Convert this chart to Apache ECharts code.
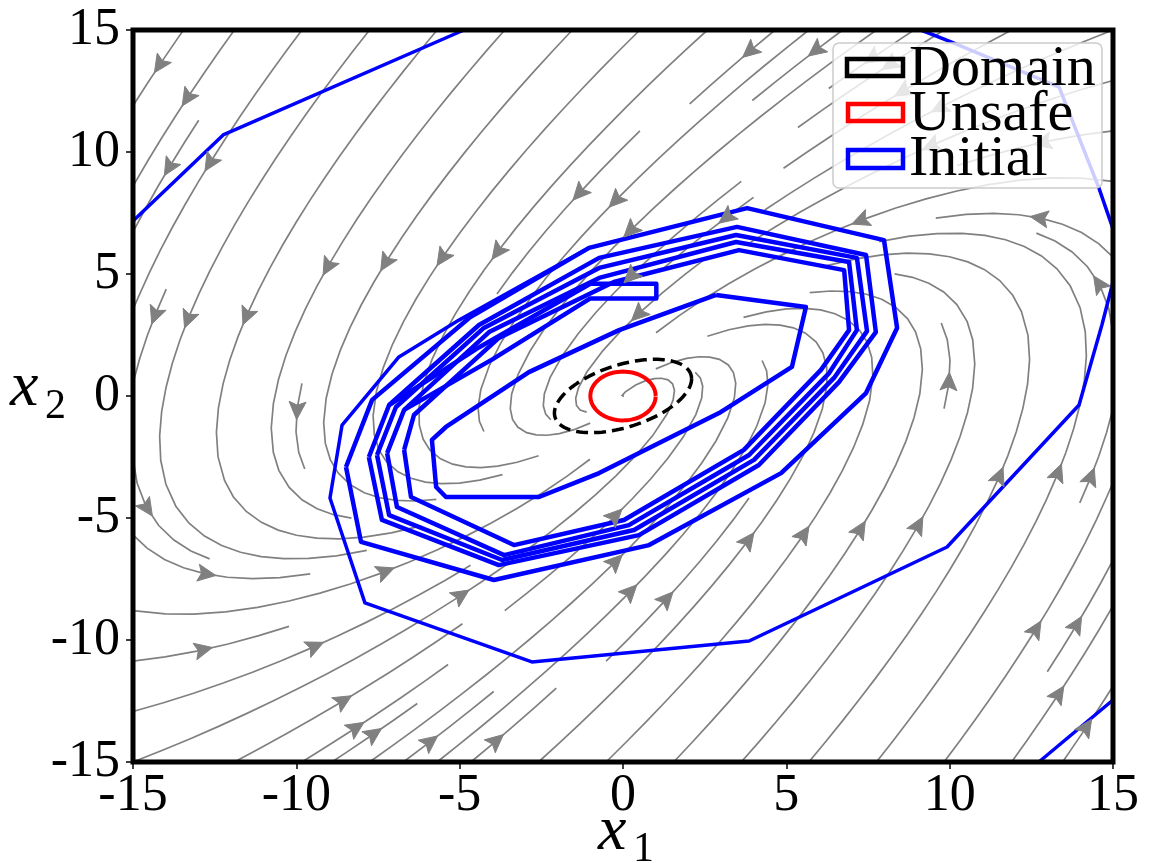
<!DOCTYPE html>
<html>
<head>
<meta charset="utf-8">
<script src="https://cdn.jsdelivr.net/npm/echarts@6/dist/echarts.min.js"></script>
<style>
html,body{margin:0;padding:0;background:#fff;}
#chart{width:1153px;height:863px;}
</style>
</head>
<body>
<div id="chart"></div>
<script>
// ---- axes ----
const X_RANGE = [-15, 15];
const Y_RANGE = [-15, 15];
const TICK_STEP = 5;

// ---- linear vector field  d[x1,x2]/dt = [rowX . x, rowY . x] ----
const fieldRowX = [0.13, -1.0];
const fieldRowY = [0.89, -1.34];

// ---- domain ellipse (two conjugate semi-diameters) and unsafe disc ----
const domainCenter = [0, 0];
const domainSemiU = [2.1, 0.7];
const domainSemiV = [0, 1.33];
const unsafeCenter = [0, 0];
const unsafeRadius = 1.0;

// ---- initial-set boundary pieces (x1, x2) ----
const initTopLeft = [[-15, 7.17], [-12.24, 10.7], [-4.87, 15]];
const initTopRight = [[9.12, 15], [10.04, 14.51], [13.35, 12.66], [14.57, 8.52], [15, 6.85]];
const initBottomRight = [[12.73, -15], [15, -12.46]];
const initOuter = [[15, 4.67], [14.66, 2.91], [13.96, -0.37], [9.92, -6.19], [3.86, -10.04],
  [-2.79, -10.9], [-7.9, -8.48], [-8.97, -4.18], [-8.6, -1.19], [-6.86, 1.6], [-5.02, 3.11], [-1.04, 6.07]];
const initRing1 = [[-8.48, -2.91], [-8.02, -5.98], [-3.95, -7.54], [0.8, -6.11], [4.84, -3.16],
  [7.44, 0.12], [8.39, 2.79], [7.99, 6.39], [3.8, 7.7], [-1.04, 6.07], [-4.71, 3.2], [-7.68, -0.16], [-8.48, -2.91]];
const initRing2 = [[-7.78, -2.5], [-7.38, -5.08], [-3.8, -6.93], [0.49, -5.7], [4.16, -2.83],
  [6.61, 0.57], [7.74, 2.62], [7.44, 5.78], [3.49, 6.93], [-0.73, 5.66], [-4.41, 2.91], [-7.16, -0.37], [-7.78, -2.5]];
const initRing2b = [[-7.53, -2.42], [-7.16, -4.88], [-3.7, -6.72], [0.34, -5.49], [4.01, -2.62],
  [6.46, 0.74], [7.47, 2.66], [7.16, 5.66], [3.46, 6.6], [-0.73, 5.25], [-4.26, 2.79], [-6.95, -0.45], [-7.53, -2.42]];
const initRing3 = [[-7.22, -2.34], [-6.92, -4.55], [-3.64, -6.52], [0.18, -5.29], [3.86, -2.42],
  [6.31, 0.94], [7.16, 2.7], [6.92, 5.49], [3.46, 6.31], [-0.73, 4.84], [-4.1, 2.62], [-6.7, -0.57], [-7.22, -2.34]];
const initRing4 = [[-6.7, -2.21], [-6.49, -4.14], [-3.34, -6.11], [0.03, -5.08], [3.7, -2.21],
  [6.06, 1.07], [6.92, 2.7], [6.77, 5.16], [3.55, 5.98], [-0.28, 4.67], [-3.8, 2.38], [-6.4, -0.78], [-6.7, -2.21]];
const initHairpin = [[-7.16, -0.37], [-4.4, 2.0], [-1.0, 4.6], [1.02, 4.6], [1.02, 4.0], [-1.0, 4.0], [-4.0, 1.5], [-6.7, -0.57]];
const initInner = [[2.85, 4.14], [5.6, 3.65], [5.17, 1.19], [2.94, -0.7], [-0.73, -3.16], [-2.57, -4.14],
  [-5.42, -4.14], [-5.72, -3.73], [-5.85, -1.8], [-5.42, -1.27], [-2.88, 0.98], [-0.12, 2.7], [2.85, 4.14]];

// ---- streamline tracing on a 30x30 occupancy mask ----
function traceStreamlines() {
  const N = 100;                       // field samples per axis
  const dx = (X_RANGE[1] - X_RANGE[0]) / (N - 1);
  const dy = (Y_RANGE[1] - Y_RANGE[0]) / (N - 1);
  const MX = 30, MY = 30;
  const mask = new Uint8Array(MX * MY);
  const g2mX = (MX - 1) / (N - 1), g2mY = (MY - 1) / (N - 1);
  const minlength = 0.1, maxlength = 4.0;
  let traj = [];
  let cur = null;

  const pyRound = v => {
    const f = Math.floor(v), d = v - f;
    if (d === 0.5) return (f % 2 === 0) ? f : f + 1;
    return Math.round(v);
  };
  const within = (xg, yg) => xg >= 0 && xg <= N - 1 && yg >= 0 && yg <= N - 1;
  const g2m = (xg, yg) => [pyRound(xg * g2mX), pyRound(yg * g2mY)];

  function updTraj(xm, ym) {
    if (!cur || cur[0] !== xm || cur[1] !== ym) {
      const k = ym * MX + xm;
      if (mask[k] === 0) { traj.push(k); mask[k] = 1; cur = [xm, ym]; }
      else return false;
    }
    return true;
  }
  const OOB = 1, TERM = 2;
  function vel(xg, yg, sign) {
    if (!within(xg, yg)) return OOB;
    const xd = X_RANGE[0] + xg * dx, yd = Y_RANGE[0] + yg * dy;
    const u = (fieldRowX[0] * xd + fieldRowX[1] * yd) / dx;
    const v = (fieldRowY[0] * xd + fieldRowY[1] * yd) / dy;
    const sp = Math.hypot(u / (N - 1), v / (N - 1));
    if (sp === 0) return TERM;
    return [sign * u / sp, sign * v / sp];
  }
  function eulerToEdge(pts, sign) {
    const [xi, yi] = pts[pts.length - 1];
    const c = vel(xi, yi, sign);
    if (!Array.isArray(c)) return 0;
    const [cx, cy] = c;
    const dsx = cx === 0 ? Infinity : (cx < 0 ? xi / -cx : (N - 1 - xi) / cx);
    const dsy = cy === 0 ? Infinity : (cy < 0 ? yi / -cy : (N - 1 - yi) / cy);
    const ds = Math.min(dsx, dsy);
    pts.push([xi + cx * ds, yi + cy * ds]);
    return ds;
  }
  function rk12(x0, y0, sign) {
    const maxerror = 0.003;
    const maxds = Math.min(1 / MX, 1 / MY, 0.1);
    let ds = maxds, stotal = 0, xi = x0, yi = y0;
    const pts = [];
    for (let guard = 0; guard < 20000; guard++) {
      if (within(xi, yi)) pts.push([xi, yi]);
      else { if (pts.length) stotal += eulerToEdge(pts, sign); break; }
      const k1 = vel(xi, yi, sign);
      if (k1 === OOB) { stotal += eulerToEdge(pts, sign); break; }
      if (k1 === TERM) break;
      const k2 = vel(xi + ds * k1[0], yi + ds * k1[1], sign);
      if (k2 === OOB) { stotal += eulerToEdge(pts, sign); break; }
      if (k2 === TERM) break;
      const dx1 = ds * k1[0], dy1 = ds * k1[1];
      const dx2 = ds * 0.5 * (k1[0] + k2[0]), dy2 = ds * 0.5 * (k1[1] + k2[1]);
      const err = Math.hypot((dx2 - dx1) / (N - 1), (dy2 - dy1) / (N - 1));
      if (err < maxerror) {
        xi += dx2; yi += dy2;
        if (!within(xi, yi)) break;
        const m = g2m(xi, yi);
        if (!updTraj(m[0], m[1])) break;
        if (stotal + ds > maxlength) break;
        stotal += ds;
      }
      ds = err === 0 ? maxds : Math.min(maxds, 0.85 * ds * Math.sqrt(maxerror / err));
    }
    return { s: stotal, pts: pts };
  }
  function integrate(xg, yg) {
    traj = [];
    const m0 = g2m(xg, yg);
    if (!updTraj(m0[0], m0[1])) return null;
    let stotal = 0;
    const b = rk12(xg, yg, -1);
    stotal += b.s;
    let out = b.pts.slice().reverse();
    cur = g2m(xg, yg);
    const f = rk12(xg, yg, 1);
    stotal += f.s;
    out = out.concat(f.pts.slice(1));
    if (stotal > minlength) return out;
    for (const k of traj) mask[k] = 0;
    return null;
  }
  function* seeds() {
    let xfirst = 0, yfirst = 1, xlast = MX - 1, ylast = MY - 1;
    let x = 0, y = 0, dir = 'right';
    for (let i = 0; i < MX * MY; i++) {
      yield [x, y];
      if (dir === 'right') { x += 1; if (x >= xlast) { xlast -= 1; dir = 'up'; } }
      else if (dir === 'up') { y += 1; if (y >= ylast) { ylast -= 1; dir = 'left'; } }
      else if (dir === 'left') { x -= 1; if (x <= xfirst) { xfirst += 1; dir = 'down'; } }
      else { y -= 1; if (y <= yfirst) { yfirst += 1; dir = 'right'; } }
    }
  }
  const lines = [], arrows = [];
  for (const [xm, ym] of seeds()) {
    if (mask[ym * MX + xm] !== 0) continue;
    const t = integrate(xm / g2mX, ym / g2mY);
    if (!t) continue;
    const pts = t.map(p => [X_RANGE[0] + p[0] * dx, Y_RANGE[0] + p[1] * dy]);
    lines.push({ coords: pts });
    // arrow half way along the path
    const s = [];
    let acc = 0;
    for (let i = 1; i < pts.length; i++) {
      acc += Math.hypot(pts[i][0] - pts[i - 1][0], pts[i][1] - pts[i - 1][1]);
      s.push(acc);
    }
    const half = acc / 2;
    let n = 0;
    while (n < s.length && s[n] < half) n++;
    const tail = pts[n];
    const nxt = pts[Math.min(n + 1, pts.length - 1)];
    arrows.push([tail[0], tail[1], (tail[0] + nxt[0]) / 2, (tail[1] + nxt[1]) / 2]);
  }
  return { lines, arrows };
}

function ellipsePoints(c, u, v, count) {
  const out = [];
  for (let i = 0; i <= count; i++) {
    const t = 2 * Math.PI * i / count;
    out.push([c[0] + u[0] * Math.cos(t) + v[0] * Math.sin(t), c[1] + u[1] * Math.cos(t) + v[1] * Math.sin(t)]);
  }
  return out;
}

const stream = traceStreamlines();
const BLUE = '#0000ff';
const SERIF = "'Liberation Serif', 'DejaVu Serif', serif";

function blueSeries(data, width) {
  return {
    type: 'line', data: data, symbol: 'none', clip: true, z: 3, silent: true,
    lineStyle: { color: BLUE, width: width, join: 'round' }
  };
}

const axisCommon = {
  type: 'value', interval: TICK_STEP,
  axisLine: { show: false, onZero: false },
  axisTick: { show: true, length: 7, lineStyle: { color: '#000', width: 1.5 } },
  minorTick: { show: false },
  splitLine: { show: false },
  axisLabel: { color: '#000', fontFamily: SERIF, fontSize: 52, formatter: v => String(v) }
};

const chart = echarts.init(document.getElementById('chart'), null, { renderer: 'canvas' });
chart.setOption({
  animation: false,
  backgroundColor: '#fff',
  grid: { left: 133, right: 40, top: 30, bottom: 101, show: true, borderColor: '#000', borderWidth: 5, backgroundColor: 'transparent', z: 8 },
  xAxis: Object.assign({}, axisCommon, { min: X_RANGE[0], max: X_RANGE[1],
    axisLabel: Object.assign({}, axisCommon.axisLabel, { margin: 8 }) }),
  yAxis: Object.assign({}, axisCommon, { min: Y_RANGE[0], max: Y_RANGE[1],
    axisLabel: Object.assign({}, axisCommon.axisLabel, { margin: 13 }) }),
  series: [
    {
      type: 'lines', coordinateSystem: 'cartesian2d', polyline: true, silent: true, z: 2,
      data: stream.lines,
      lineStyle: { color: '#808080', width: 1.7, opacity: 1 }
    },
    blueSeries(initTopLeft, 3.5),
    blueSeries(initTopRight, 3.5),
    blueSeries(initBottomRight, 3.5),
    blueSeries(initOuter, 3.5),
    blueSeries(initRing1, 4.5),
    blueSeries(initRing2, 4.5),
    blueSeries(initRing2b, 4.5),
    blueSeries(initRing3, 4.5),
    blueSeries(initRing4, 4.5),
    blueSeries(initHairpin, 4.5),
    blueSeries(initInner, 4.5),
    {
      type: 'custom', silent: true, z: 4, clip: true,
      data: stream.arrows,
      encode: { x: [0, 2], y: [1, 3] },
      renderItem: function (params, api) {
        const p0 = api.coord([api.value(0), api.value(1)]);
        const p1 = api.coord([api.value(2), api.value(3)]);
        let ux = p1[0] - p0[0], uy = p1[1] - p0[1];
        const L = Math.hypot(ux, uy) || 1;
        ux /= L; uy /= L;
        const len = 18, hw = 8.5, notch = 3.5;
        const bx = p1[0] - ux * len, by = p1[1] - uy * len;
        const nx = -uy, ny = ux;
        return {
          type: 'polygon',
          shape: { points: [p1, [bx + nx * hw, by + ny * hw],
            [p1[0] - ux * (len - notch), p1[1] - uy * (len - notch)], [bx - nx * hw, by - ny * hw]] },
          style: { fill: '#808080', stroke: '#808080', lineWidth: 1, lineJoin: 'round' }
        };
      }
    },
    {
      type: 'line', data: ellipsePoints(domainCenter, domainSemiU, domainSemiV, 240), symbol: 'none', z: 5, silent: true,
      lineStyle: { color: '#000', width: 3.5, type: [12, 6] }
    },
    {
      type: 'line', data: ellipsePoints(unsafeCenter, [unsafeRadius, 0], [0, unsafeRadius], 240), symbol: 'none', z: 6, silent: true,
      lineStyle: { color: '#ff0000', width: 4 }
    }
  ],
  graphic: { elements: [
    { type: 'rect', z: 100, shape: { x: 833, y: 43, width: 269, height: 145, r: 6 },
      style: { fill: 'rgba(255,255,255,0.8)', stroke: '#cccccc', lineWidth: 1.5 } },
    { type: 'rect', z: 101, shape: { x: 847, y: 59, width: 56, height: 17 }, style: { fill: 'none', stroke: '#000', lineWidth: 4.5 } },
    { type: 'rect', z: 101, shape: { x: 848, y: 104, width: 55, height: 17 }, style: { fill: 'none', stroke: '#ff0000', lineWidth: 4.5 } },
    { type: 'rect', z: 101, shape: { x: 848, y: 150, width: 55, height: 18 }, style: { fill: 'none', stroke: BLUE, lineWidth: 4.5 } },
    { type: 'text', z: 101, style: { x: 909, y: 70, text: 'Domain', fontFamily: SERIF, fontSize: 58, fill: '#000', verticalAlign: 'middle' } },
    { type: 'text', z: 101, style: { x: 909, y: 115, text: 'Unsafe', fontFamily: SERIF, fontSize: 58, fill: '#000', verticalAlign: 'middle' } },
    { type: 'text', z: 101, style: { x: 909, y: 160, text: 'Initial', fontFamily: SERIF, fontSize: 58, fill: '#000', verticalAlign: 'middle' } },
    { type: 'text', z: 101, style: { x: 10, y: 388, text: 'x', fontFamily: SERIF, fontStyle: 'italic', fontSize: 64, fill: '#000', verticalAlign: 'middle' } },
    { type: 'text', z: 101, style: { x: 45, y: 407, text: '2', fontFamily: SERIF, fontSize: 42, fill: '#000', verticalAlign: 'middle' } },
    { type: 'text', z: 101, style: { x: 598, y: 832, text: 'x', fontFamily: SERIF, fontStyle: 'italic', fontSize: 64, fill: '#000', verticalAlign: 'middle' } },
    { type: 'text', z: 101, style: { x: 633, y: 850, text: '1', fontFamily: SERIF, fontSize: 42, fill: '#000', verticalAlign: 'middle' } }
  ] }
});
</script>
</body>
</html>
